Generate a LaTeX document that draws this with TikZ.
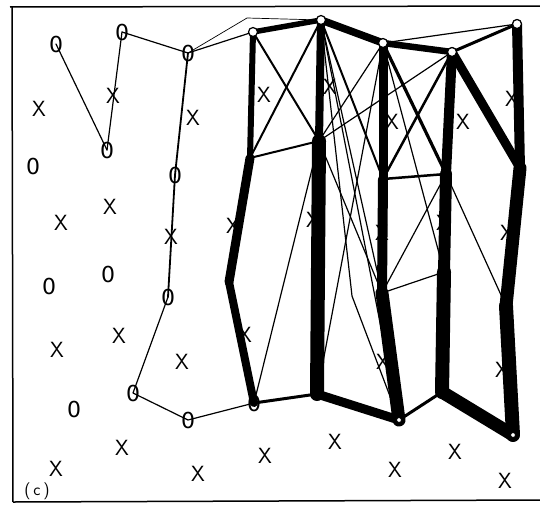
\documentclass[tikz,border=0pt]{standalone}
\usepackage{fontspec}
\newfontfamily\ofont{DejaVu Sans}
\begin{document}
\begin{tikzpicture}[x=1pt,y=-1pt,
  ed/.style={line cap=round,line join=round},
  eA/.style={ed,line width=0.7},
  eB/.style={ed,line width=1.2},
  eC/.style={ed,line width=2},
  tk/.style={ed,line width=#1},
  xm/.style={inner sep=0pt,font=\fontsize{22}{22}\selectfont\sffamily},
  om/.style={inner sep=0pt,font=\fontsize{22}{22}\selectfont\ofont},
  tc/.style={circle,draw,fill=white,inner sep=0pt,minimum size=9pt,line width=1.2},
  bc/.style={circle,draw,fill=white,inner sep=0pt,minimum size=5pt,line width=0.9},
  frame/.style={line width=1.5}]
\useasboundingbox (0,0) rectangle (540,506);
% frame
\draw[frame] (10,7) -- (540,6);
\draw[frame] (12,7) -- (13,502);
\draw[frame] (13,502) -- (540,500);
% X markers
\foreach \px/\py [count=\i] in {39/109,113/96,193/118,264/95,330/87,392/122,463/122,512/99,
  61/223,110/207,171/237,233/226,313/220,382/233,443/223,507/233,
  57/350,119/336,182/362,245/335,383/362,502/370,
  56/469,122/448,198/474,265/456,335/442,395/470,455/452,505/481}
  \node[xm] (x\i) at (\px,\py) {X};
% free O markers
\node[om] (oa) at (33,166) {0};
\node[om] (ob) at (49,286) {0};
\node[om] (oc) at (108,274) {0};
\node[om] (od) at (74,409) {0};
% connected O markers
\node[om] (p1) at (56,44) {0};
\node[om] (p2) at (122,32) {0};
\node[om] (p3) at (107,150) {0};
\node[om] (p4) at (188,53) {0};
\node[om] (p5) at (175,175) {0};
\node[om] (p6) at (168,297) {0};
\node[om] (p7) at (133,393) {0};
\node[om] (p8) at (188,420) {0};
\node[om] (B1) at (254,403) {0};
% joints
\coordinate (T1) at (253,32);
\coordinate (T2) at (321,20);
\coordinate (T3) at (383,43);
\coordinate (T4) at (452,52);
\coordinate (T5) at (517,24);
\coordinate (B2) at (317,394);
\coordinate (B3c) at (399,420);
\coordinate (B4) at (442,392);
\coordinate (B5c) at (513,435);
\coordinate (M1) at (250,158);
\coordinate (L1) at (229,282);
\coordinate (M2) at (319,141);
\coordinate (M3) at (383,179);
\coordinate (L3) at (382,293);
\coordinate (M4) at (446,174);
\coordinate (M4b) at (444,272);
\coordinate (M5) at (520,168);
\coordinate (L5) at (506,306);
\coordinate (K) at (352,296);
\coordinate (G) at (247,18);
% left chains
\draw[eB] (p1.center) -- (p3.center);
\draw[eB] (p2.center) -- (p3.center);
\draw[eB] (p2.center) -- (p4.center);
\draw[eB] (p4.center) -- (T1);
\draw[eA] (p4.center) -- (G) -- (T2);
\draw[tk=1.8] (p4.center) -- (p5.center) -- (p6.center);
\draw[eB] (p6.center) -- (p7.center) -- (p8.center) -- (B1.center);
% thin cross connections
\draw[eC] (T1) -- (M2);
\draw[eC] (T2) -- (M1);
\draw[eC] (M1) -- (M2);
\draw[eB] (M2) -- (B1.center);
\draw[eB] (M2) -- (T3);
\draw[eB] (M2) -- (T4);
\draw[eC] (T2) -- (M3);
\draw[eB] (T2) -- (L3);
\draw[eB] (T2) -- (B3c);
\draw[eB] (T2) -- (K) -- (B3c);
\draw[eB] (M2) -- (L3);
\draw[eB] (T3) -- (B2);
\draw[eB] (T3) -- (T5);
\draw[tk=3.2] (T3) -- (M4);
\draw[tk=2.5] (T4) -- (M3);
\draw[tk=2.5] (M3) -- (M4);
\draw[eB] (T3) -- (M4b);
\draw[eB] (M4) -- (L3);
\draw[eB] (L3) -- (M4b);
\draw[eB] (M4) -- (L5);
% thick columns
\draw[tk=6] (T1) -- (M1);
\draw[tk=9] (M1) -- (L1);
\draw[tk=8] (L1) -- (B1.center);
\draw[tk=8] (T2) -- (M2);
\draw[tk=14] (M2) -- (B2);
\draw[tk=9] (T3) -- (M3);
\draw[tk=10] (M3) -- (L3);
\draw[tk=13] (L3) -- (B3c);
\draw[tk=10] (T4) -- (M4);
\draw[tk=12] (M4) -- (M4b);
\draw[tk=14] (M4b) -- (B4);
\draw[tk=10] (T5) -- (M5);
\draw[tk=13] (M5) -- (L5);
\draw[tk=14] (L5) -- (B5c);
\draw[tk=9] (T4) -- (M5);
% top and bottom rims
\draw[tk=5.5] (T1) -- (T2);
\draw[tk=7.5] (T2) -- (T3);
\draw[tk=6.5] (T3) -- (T4);
\draw[tk=3] (T4) -- (T5);
\draw[tk=3] (B1.center) -- (B2);
\draw[tk=9] (B2) -- (B3c);
\draw[tk=3] (B3c) -- (B4);
\draw[tk=13] (B4) -- (B5c);
% node marks
\node[tc] (n1) at (T1) {};
\node[tc] (n2) at (T2) {};
\node[tc] (n3) at (T3) {};
\node[tc] (n4) at (T4) {};
\node[tc] (n5) at (T5) {};
\node[bc] (n6) at (B3c) {};
\node[bc] (n7) at (B5c) {};
% label
\node[inner sep=0pt,font=\fontsize{17}{17}\selectfont\sffamily] (lab) at (37,491) {(\,c\,)};
\end{tikzpicture}
\end{document}
